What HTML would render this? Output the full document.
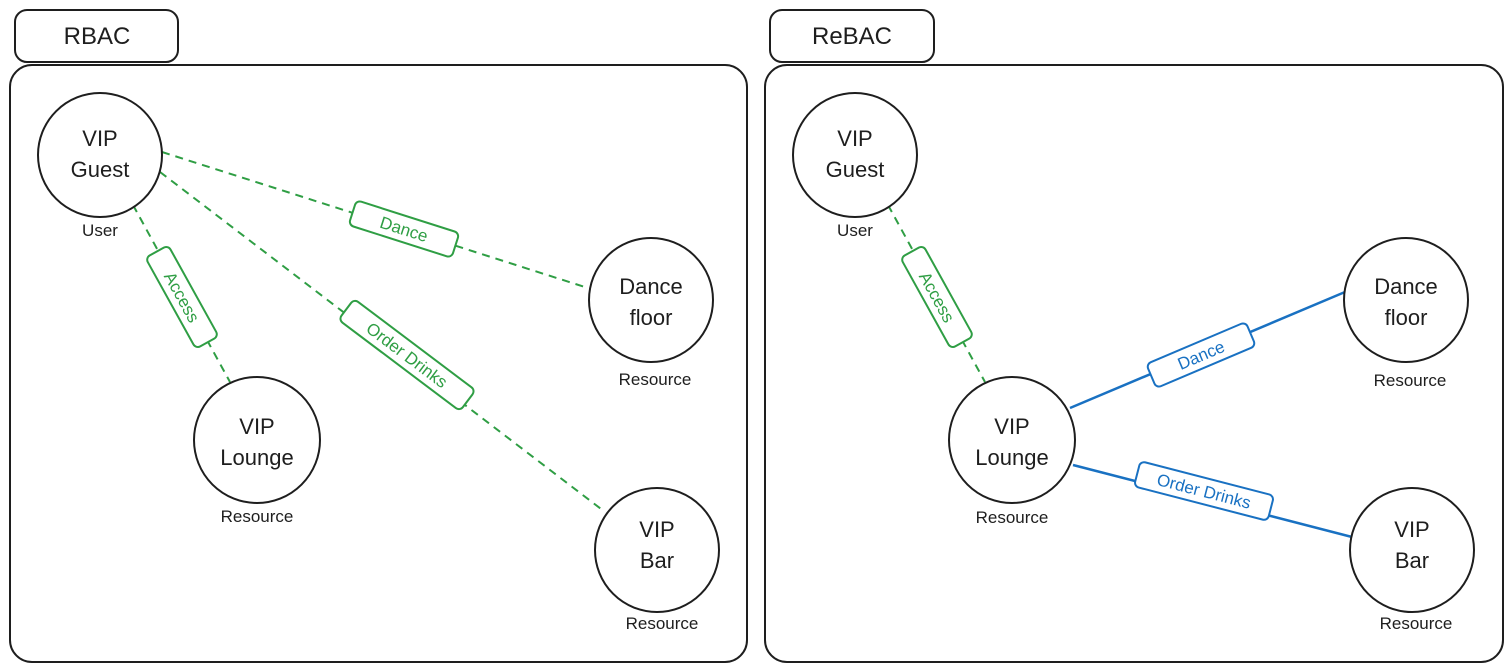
<!DOCTYPE html>
<html><head><meta charset="utf-8"><style>
html,body{margin:0;padding:0;background:#fff;}
svg{display:block;}
text{font-family:"Liberation Sans",sans-serif;}
</style></head><body>
<svg width="1511" height="671" viewBox="0 0 1511 671" xmlns="http://www.w3.org/2000/svg">
<g fill="none" stroke="#1e1e1e" stroke-width="2">
<rect x="15" y="10" width="163" height="52" rx="12"/>
<rect x="10" y="65" width="737" height="597" rx="22"/>
<rect x="770" y="10" width="164" height="52" rx="12"/>
<rect x="765" y="65" width="738" height="597" rx="22"/>
</g>
<g font-size="24" fill="#1e1e1e" text-anchor="middle">
<text x="97" y="44">RBAC</text>
<text x="852" y="44">ReBAC</text>
</g>
<!-- left lines -->
<g stroke="#2f9e44" stroke-width="2" stroke-dasharray="8,6" fill="none">
<line x1="162" y1="152" x2="588" y2="288"/>
<line x1="133" y1="205" x2="230" y2="382"/>
<line x1="160" y1="172" x2="605" y2="512"/>
<line x1="888" y1="205" x2="985" y2="382"/>
</g>
<g stroke="#1971c2" stroke-width="2.5" fill="none">
<line x1="1070" y1="408" x2="1345" y2="292"/>
<line x1="1073" y1="465" x2="1352" y2="537"/>
</g>
<!-- labels -->
<g font-size="17" text-anchor="middle">
<g transform="translate(404,229) rotate(17.7)"><rect x="-54" y="-13" width="108" height="26" rx="5" fill="#fff" stroke="#2f9e44" stroke-width="2"/><text y="6" fill="#2f9e44">Dance</text></g>
<g transform="translate(182,297) rotate(61)"><rect x="-52" y="-13" width="104" height="26" rx="5" fill="#fff" stroke="#2f9e44" stroke-width="2"/><text y="6" fill="#2f9e44">Access</text></g>
<g transform="translate(407,355) rotate(37)"><rect x="-76" y="-13" width="152" height="26" rx="5" fill="#fff" stroke="#2f9e44" stroke-width="2"/><text y="6" fill="#2f9e44">Order Drinks</text></g>
<g transform="translate(937,297) rotate(61)"><rect x="-52" y="-13" width="104" height="26" rx="5" fill="#fff" stroke="#2f9e44" stroke-width="2"/><text y="6" fill="#2f9e44">Access</text></g>
<g transform="translate(1201,355) rotate(-23)"><rect x="-54" y="-13" width="108" height="26" rx="5" fill="#fff" stroke="#1971c2" stroke-width="2"/><text y="6" fill="#1971c2">Dance</text></g>
<g transform="translate(1204,491) rotate(14.5)"><rect x="-69" y="-13" width="138" height="26" rx="5" fill="#fff" stroke="#1971c2" stroke-width="2"/><text y="6" fill="#1971c2">Order Drinks</text></g>
</g>
<!-- circles -->
<g fill="#fff" stroke="#1e1e1e" stroke-width="2">
<circle cx="100" cy="155" r="62"/>
<circle cx="651" cy="300" r="62"/>
<circle cx="257" cy="440" r="63"/>
<circle cx="657" cy="550" r="62"/>
<circle cx="855" cy="155" r="62"/>
<circle cx="1406" cy="300" r="62"/>
<circle cx="1012" cy="440" r="63"/>
<circle cx="1412" cy="550" r="62"/>
</g>
<g font-size="22" fill="#1e1e1e" text-anchor="middle">
<text x="100" y="146">VIP</text><text x="100" y="177">Guest</text>
<text x="651" y="294">Dance</text><text x="651" y="325">floor</text>
<text x="257" y="434">VIP</text><text x="257" y="465">Lounge</text>
<text x="657" y="537">VIP</text><text x="657" y="568">Bar</text>
<text x="855" y="146">VIP</text><text x="855" y="177">Guest</text>
<text x="1406" y="294">Dance</text><text x="1406" y="325">floor</text>
<text x="1012" y="434">VIP</text><text x="1012" y="465">Lounge</text>
<text x="1412" y="537">VIP</text><text x="1412" y="568">Bar</text>
</g>
<g font-size="17" fill="#1e1e1e" text-anchor="middle">
<text x="100" y="236">User</text>
<text x="655" y="385">Resource</text>
<text x="257" y="522">Resource</text>
<text x="662" y="629">Resource</text>
<text x="855" y="236">User</text>
<text x="1410" y="386">Resource</text>
<text x="1012" y="523">Resource</text>
<text x="1416" y="629">Resource</text>
</g>
</svg>
</body></html>
